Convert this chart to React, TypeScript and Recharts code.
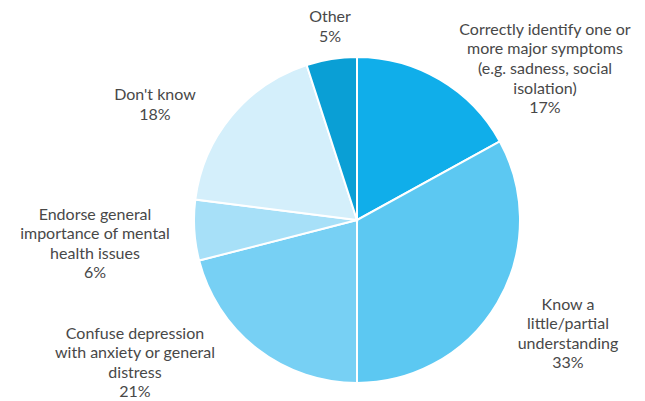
import { Cell, Pie, PieChart } from "recharts"

const LABELS = [
  ["Correctly identify one or", "more major symptoms", "(e.g. sadness, social", "isolation)"],
  ["Know a", "little/partial", "understanding"],
  ["Confuse depression", "with anxiety or general", "distress"],
  ["Endorse general", "importance of mental", "health issues"],
  ["Don't know"],
  ["Other"],
]
const VALUES = [17, 33, 21, 6, 18, 5]
const COLORS = ["#10aeea", "#5cc8f2", "#77d0f4", "#a7e0f8", "#d4effb", "#0a9fd5"]

// label block centres, relative to the pie centre (hand placed like the original)
const LABEL_OFFSET: [number, number][] = [
  [188, -153],
  [211, 112],
  [-222, 141],
  [-262, 22],
  [-202, -117],
  [-27, -195],
]

const data = VALUES.map((v, i) => ({ name: LABELS[i].join(" "), value: v, lines: [...LABELS[i], `${v}%`] }))

const LH = 19.6

function renderLabel(p: any) {
  const { cx, cy, index } = p
  const lines: string[] = data[index].lines
  const [dx, dy] = LABEL_OFFSET[index]
  const x = cx + dx
  const y0 = cy + dy - ((lines.length - 1) * LH) / 2
  return (
    <text x={x} y={y0} textAnchor="middle" dominantBaseline="central" fill="#484848" fontSize={16} fontFamily="Lato, sans-serif">
      {lines.map((l, i) => (
        <tspan key={i} x={x} y={y0 + i * LH}>{l}</tspan>
      ))}
    </text>
  )
}

export default function App() {
  return (
    <div style={{ position: "absolute", left: 0, top: 0, width: 645, height: 401, background: "#fff" }}>
      <PieChart width={645} height={401} margin={{ top: 0, right: 0, bottom: 0, left: 0 }}>
        <Pie
          data={data} dataKey="value" nameKey="name"
          cx={357} cy={220} outerRadius={163} innerRadius={0}
          startAngle={90} endAngle={-270}
          stroke="#fff" strokeWidth={2}
          label={renderLabel} labelLine={false}
          isAnimationActive={false}
        >
          {data.map((_, i) => <Cell key={i} fill={COLORS[i]} />)}
        </Pie>
      </PieChart>
    </div>
  )
}
